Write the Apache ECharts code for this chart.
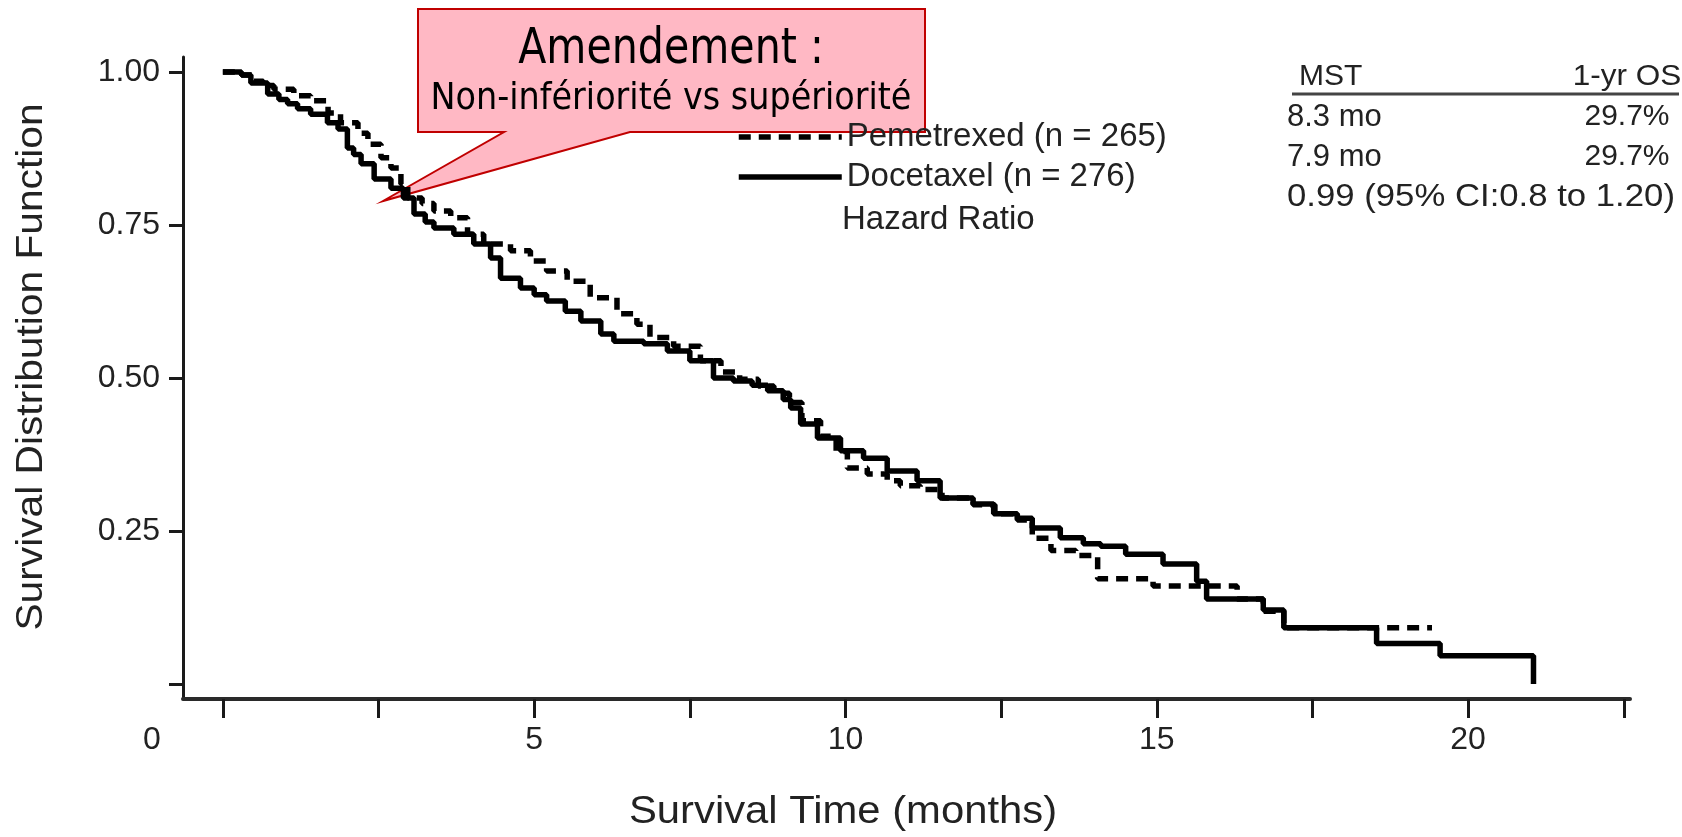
<!DOCTYPE html>
<html><head><meta charset="utf-8">
<script src="https://cdn.jsdelivr.net/npm/echarts@6/dist/echarts.min.js"></script>
<style>html,body{margin:0;padding:0;background:#fff}#c{width:1682px;height:837px}</style>
</head><body><div id="c"></div>
<script>
// Kaplan-Meier estimates (months, survival)
const pemTime = [0, 0.3, 0.5, 0.65, 0.82, 1.14, 1.41, 1.69, 1.89, 2.17, 2.33, 2.54, 2.7, 2.86, 2.97, 3.2, 3.39, 3.66, 3.93, 4.19, 4.62, 4.94, 5.2, 5.53, 5.9, 6.33, 6.65, 6.86, 7.24, 7.67, 8.0, 8.3, 8.6, 8.85, 9.1, 9.3, 9.6, 9.85, 10.03, 10.35, 10.67, 10.88, 11.2, 11.55, 12.05, 12.4, 12.76, 13.0, 13.3, 13.7, 14.05, 14.94, 16.29, 16.71, 17.04, 19.42];
const pemSurv = [1.0, 0.995, 0.985, 0.978, 0.972, 0.961, 0.953, 0.933, 0.917, 0.9, 0.882, 0.86, 0.843, 0.817, 0.794, 0.785, 0.773, 0.762, 0.735, 0.719, 0.708, 0.691, 0.675, 0.658, 0.631, 0.605, 0.588, 0.566, 0.552, 0.528, 0.51, 0.498, 0.487, 0.475, 0.46, 0.43, 0.405, 0.38, 0.353, 0.343, 0.332, 0.324, 0.318, 0.304, 0.293, 0.278, 0.268, 0.238, 0.218, 0.21, 0.172, 0.16, 0.139, 0.119, 0.092, 0.092];
const docTime = [0, 0.3, 0.45, 0.72, 0.9, 1.04, 1.2, 1.41, 1.68, 1.85, 2.0, 2.1, 2.22, 2.43, 2.7, 2.9, 3.07, 3.25, 3.39, 3.71, 4.03, 4.3, 4.46, 4.78, 5.0, 5.2, 5.5, 5.75, 6.07, 6.28, 6.76, 7.14, 7.5, 7.88, 8.2, 8.5, 8.75, 9.0, 9.12, 9.28, 9.55, 9.92, 10.29, 10.67, 11.15, 11.52, 12.05, 12.38, 12.76, 13.0, 13.45, 13.82, 14.1, 14.5, 15.1, 15.64, 15.8, 16.71, 17.04, 18.53, 19.55, 21.05];
const docSurv = [1.0, 0.995, 0.982, 0.964, 0.955, 0.948, 0.94, 0.931, 0.917, 0.907, 0.876, 0.865, 0.85, 0.825, 0.81, 0.794, 0.768, 0.755, 0.745, 0.735, 0.719, 0.696, 0.663, 0.647, 0.636, 0.626, 0.609, 0.593, 0.572, 0.56, 0.556, 0.544, 0.528, 0.5, 0.495, 0.488, 0.479, 0.465, 0.451, 0.425, 0.402, 0.381, 0.369, 0.348, 0.332, 0.304, 0.294, 0.278, 0.271, 0.255, 0.239, 0.229, 0.225, 0.212, 0.196, 0.168, 0.139, 0.121, 0.092, 0.066, 0.046, 0.0];
const seriesNames = ['Pemetrexed (n = 265)', 'Docetaxel (n = 276)'];
const xTickValues = [0, 2.5, 5, 7.5, 10, 12.5, 15, 17.5, 20, 22.5];
const xLabelValues = [5, 10, 15, 20];
const yTickValues = [0, 0.25, 0.5, 0.75, 1.0];
const yLabelValues = [0.25, 0.5, 0.75, 1.0];
const xOriginLabel = '0';
const xAxisTitle = 'Survival Time (months)';
const yAxisTitle = 'Survival Distribution Function';
const legendExtra = 'Hazard Ratio';
const tableHeader = ['MST', '1-yr OS'];
const tableRows = [['8.3 mo', '29.7%'], ['7.9 mo', '29.7%']];
const hazardText = '0.99 (95% CI:0.8 to 1.20)';
const calloutTitle = 'Amendement :';
const calloutText = 'Non-infériorité vs supériorité';

const pemData = pemTime.map((t, i) => [t, pemSurv[i]]);
const docData = docTime.map((t, i) => [t, docSurv[i]]);
const FONT = 'Liberation Sans, Arial, sans-serif';
const TXT = '#222';

const chart = echarts.init(document.getElementById('c'), null, {renderer: 'canvas'});
function txt(x, y, s, size, align, sx, sy) {
  return {type: 'text', x: x, y: y, scaleX: sx || 1, scaleY: sy || 1,
    style: {text: s, fill: TXT, font: size + 'px ' + FONT, textAlign: align, textVerticalAlign: 'middle'}};
}
const tableText = [];
tableText.push(txt(1299, 77, tableHeader[0], 30, 'left'));
tableText.push(txt(1627, 77, tableHeader[1], 30, 'center', 1.05));
tableRows.forEach((r, i) => {
  const y = 117 + i * 40;
  tableText.push(txt(1287, y, r[0], 31, 'left'));
  tableText.push(txt(1627, y, r[1], 30, 'center'));
});
tableText.push(txt(1287, 197, hazardText, 31, 'left', 1.12));

const option = {
  animation: false,
  backgroundColor: '#fff',
  grid: {left: 183, right: 52, top: 57, bottom: 138, containLabel: false},
  xAxis: {
    type: 'value', min: -0.64, max: 22.6,
    axisLine: {show: true, onZero: false, lineStyle: {color: '#2a2a2a', width: 4}},
    axisTick: {show: true, length: 19, inside: false, customValues: xTickValues, lineStyle: {color: '#1a1a1a', width: 3}},
    axisLabel: {show: true, customValues: xLabelValues, margin: 25, fontSize: 32, fontFamily: FONT, color: TXT},
    splitLine: {show: false}
  },
  yAxis: {
    type: 'value', min: -0.0245, max: 1.0245,
    axisLine: {show: true, onZero: false, lineStyle: {color: '#1a1a1a', width: 3}},
    axisTick: {show: true, length: 14, customValues: yTickValues, lineStyle: {color: '#1a1a1a', width: 3}},
    axisLabel: {show: true, customValues: yLabelValues, margin: 23, fontSize: 32, fontFamily: FONT, color: TXT, formatter: v => v.toFixed(2)},
    splitLine: {show: false}
  },
  legend: {
    data: seriesNames, orient: 'vertical', left: 736, top: 117, padding: 0,
    itemWidth: 103, itemHeight: 14, itemGap: 0, selectedMode: false,
    itemStyle: {opacity: 0}, lineStyle: {width: 5.5},
    textStyle: {fontSize: 33, lineHeight: 40, fontFamily: FONT, color: TXT}
  },
  series: [
    {name: seriesNames[0], type: 'line', step: 'end', data: pemData, symbol: 'none', showSymbol: false,
     lineStyle: {color: '#000', width: 5.5, type: [12, 8]}, itemStyle: {color: '#000'}, z: 2},
    {name: seriesNames[1], type: 'line', step: 'end', data: docData, symbol: 'none', showSymbol: false,
     lineStyle: {color: '#000', width: 5.5, type: 'solid'}, itemStyle: {color: '#000'}, z: 3}
  ],
  graphic: [
    txt(152, 740, xOriginLabel, 32, 'center'),
    txt(843, 813, xAxisTitle, 38, 'center', 1.1),
    Object.assign(txt(32, 367, yAxisTitle, 37, 'center', 1.1), {rotation: Math.PI / 2}),
    txt(842, 220, legendExtra, 33, 'left'),
    ...tableText,
    {type: 'line', shape: {x1: 1292, y1: 94, x2: 1679, y2: 94}, style: {stroke: '#444', lineWidth: 3}},
    {type: 'group', z: 100, children: [
      {type: 'polygon', shape: {points: [[418, 9], [925, 9], [925, 132], [630, 132], [383, 201], [504, 132], [418, 132]]},
       style: {fill: '#FFB8C4', stroke: '#C00000', lineWidth: 2}},
      {type: 'text', x: 671, y: 50, scaleX: 0.84,
       style: {text: calloutTitle, fill: '#000', font: '49px DejaVu Sans, sans-serif', textAlign: 'center', textVerticalAlign: 'middle'}},
      {type: 'text', x: 671, y: 99, scaleX: 0.88,
       style: {text: calloutText, fill: '#000', font: '38px DejaVu Sans, sans-serif', textAlign: 'center', textVerticalAlign: 'middle'}}
    ]}
  ]
};
chart.setOption(option);
</script>
</body></html>
